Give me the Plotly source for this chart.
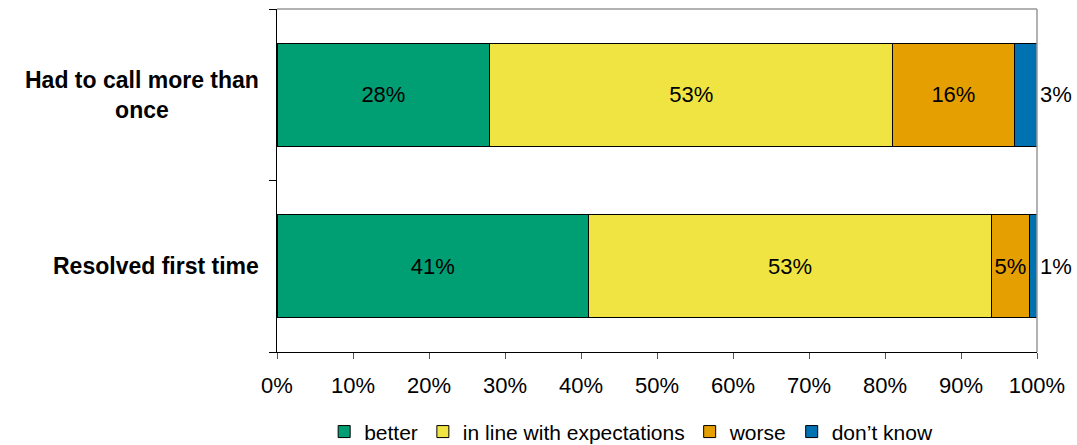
import plotly.graph_objects as go

# Survey results: satisfaction by call outcome (percent of respondents)
categories = ["Resolved first time", "Had to call more than<br>once"]
series_names = ["better", "in line with expectations", "worse", "don\u2019t know"]
better = [41, 28]
in_line = [53, 53]
worse = [5, 16]
dont_know = [1, 3]
x_ticks = [0, 10, 20, 30, 40, 50, 60, 70, 80, 90, 100]

colors = ["#009E73", "#F0E442", "#E69F00", "#0072B2"]
values = [better, in_line, worse, dont_know]
positions = ["inside", "inside", "inside", "outside"]

FONT = "Liberation Sans, Arial, sans-serif"

fig = go.Figure()
for name, vals, color, pos in zip(series_names, values, colors, positions):
    fig.add_trace(go.Bar(
        y=list(range(len(categories))),
        x=vals,
        orientation="h",
        name=name,
        marker=dict(color=color, line=dict(color="#000000", width=1)),
        text=[f"{v}%" for v in vals],
        textposition=pos,
        insidetextanchor="middle",
        textangle=0,
        constraintext="none",
        cliponaxis=False,
        textfont=dict(family=FONT, size=22, color="#000000"),
        width=0.6,
    ))

# Category labels, centred line by line
for i, cat in enumerate(categories):
    fig.add_annotation(
        x=0, xref="paper", y=i, yref="y",
        text=f"<b>{cat}</b>", showarrow=False,
        xanchor="right", yanchor="middle", align="center",
        xshift=-16,
        font=dict(family=FONT, size=23, color="#000000"),
    )

fig.update_layout(
    barmode="stack",
    width=1077, height=445,
    margin=dict(l=277, r=40, t=9, b=93, autoexpand=False),
    paper_bgcolor="white", plot_bgcolor="white",
    font=dict(family=FONT, size=21, color="#000000"),
    legend=dict(
        orientation="h", x=0.466, xanchor="center",
        y=-0.233, yanchor="middle", yref="paper",
        font=dict(family=FONT, size=21, color="#000000"),
        traceorder="normal", itemwidth=30,
    ),
    xaxis=dict(
        range=[0, 100], tickvals=x_ticks,
        ticktext=[f"{t}%" for t in x_ticks],
        ticks="outside", ticklen=6, tickcolor="#555555",
        ticklabelstandoff=8,
        showline=True, linecolor="#000000", linewidth=1,
        showgrid=False, zeroline=False,
        tickfont=dict(family=FONT, size=22, color="#000000"),
    ),
    yaxis=dict(
        range=[-0.5, 1.5], tickvals=[-0.5, 0.5, 1.5], ticktext=["", "", ""],
        ticks="outside", ticklen=7, tickcolor="#000000",
        showline=True, linecolor="#000000", linewidth=1,
        showgrid=False, zeroline=False,
    ),
    shapes=[
        dict(type="line", xref="paper", yref="paper", x0=0, x1=1, y0=1, y1=1,
             line=dict(color="#999999", width=1.5)),
        dict(type="line", xref="paper", yref="paper", x0=1, x1=1, y0=0, y1=1,
             line=dict(color="#999999", width=1.5)),
    ],
)

fig.write_html("out.html")
